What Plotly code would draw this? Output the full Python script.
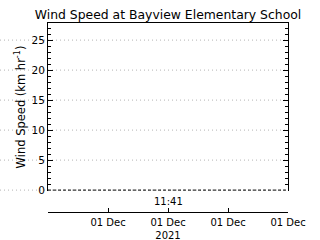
import plotly.graph_objects as go

# Data
times = ["2021-12-01 11:40:00", "2021-12-01 11:42:00"]
wind_speed = [0, 0]
x_tick_vals = ["2021-12-01 11:40:30", "2021-12-01 11:41:00",
               "2021-12-01 11:41:30", "2021-12-01 11:42:00"]
x_tick_text = ["01 Dec", "01 Dec<br>2021", "01 Dec", "01 Dec"]
y_tick_vals = [0, 5, 10, 15, 20, 25]
center_time_label = "11:41"
center_time = "2021-12-01 11:41:00"

FONT = "DejaVu Sans"
W, H = 320, 240
ML, MR, MT, MB = 48, 32, 23, 28
plot_h = H - MT - MB
ydom0 = 21 / plot_h

fig = go.Figure()
fig.add_trace(go.Scatter(
    x=times, y=wind_speed, mode="lines", xaxis="x2", yaxis="y",
    line=dict(color="black", width=1, dash="3px,2px"), showlegend=False,
    hoverinfo="skip"))

shapes = []
for v in y_tick_vals:
    shapes.append(dict(type="line", xref="paper", yref="y",
                       x0=-ML / (W - ML - MR), x1=1, y0=v, y1=v,
                       line=dict(color="#b4b4b4", width=1, dash="1px,3px"),
                       layer="below"))

fig.update_layout(
    width=W, height=H,
    margin=dict(l=ML, r=MR, t=MT, b=MB, pad=0, autoexpand=False),
    paper_bgcolor="white", plot_bgcolor="white",
    font=dict(family=FONT, size=10, color="black"),
    title=dict(text="Wind Speed at Bayview Elementary School",
               x=(ML + 120) / W, xanchor="center", y=1 - 15 / H, yanchor="middle",
               font=dict(family=FONT, size=12.4, color="black")),
    xaxis=dict(
        type="date", automargin=False,
        range=[times[0], times[1]], anchor="free", position=0,
        showline=True, linecolor="black", linewidth=1,
        ticks="inside", ticklen=4, tickcolor="black",
        tickvals=x_tick_vals, ticktext=x_tick_text, tickangle=0,
        ticklabelstandoff=1,
        showgrid=False, zeroline=False,
        tickfont=dict(family=FONT, size=10, color="black")),
    xaxis2=dict(
        type="date", automargin=False,
        range=[times[0], times[1]], overlaying="x", anchor="y", side="top",
        showline=True, linecolor="black", linewidth=1,
        showticklabels=False, ticks="", showgrid=False, zeroline=False),
    yaxis=dict(
        automargin=False,
        domain=[ydom0, 1], range=[-0.15, 27.85], anchor="x2", side="left",
        showline=True, linecolor="black", linewidth=1, mirror="ticks",
        ticks="inside", ticklen=5, tickcolor="black",
        tickvals=y_tick_vals, showgrid=False, zeroline=False,
        minor=dict(ticks="inside", ticklen=3, dtick=1, tickcolor="black", showgrid=False),
        tickfont=dict(family=FONT, size=10.5, color="black"),
        title=dict(text="Wind Speed (km hr<sup>-1</sup>)", standoff=3,
                   font=dict(family=FONT, size=11.5, color="black"))),
    shapes=shapes,
    annotations=[dict(text=center_time_label, x=center_time, xref="x",
                      y=11 / plot_h, yref="paper",
                      xanchor="center", yanchor="middle", showarrow=False,
                      font=dict(family=FONT, size=10, color="black"))],
)

fig.write_html("out.html")
